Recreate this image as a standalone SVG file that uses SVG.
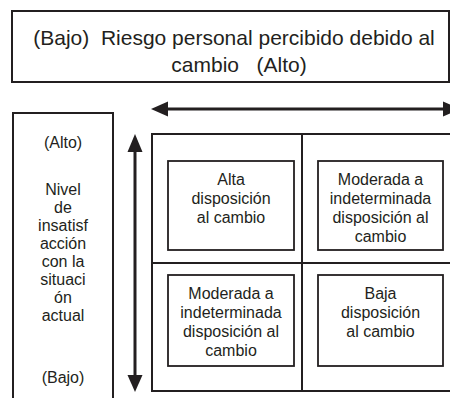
<svg xmlns="http://www.w3.org/2000/svg" width="450" height="398" viewBox="0 0 450 398">
<style>
.box{fill:#fff;stroke:#231f20;stroke-width:2}
.ibox{fill:#fff;stroke:#231f20;stroke-width:1.8}
.grid{fill:none;stroke:#231f20;stroke-width:2}
.t{font-family:"Liberation Sans",Arial,sans-serif;font-size:16px;fill:#231f20;text-anchor:middle}
.h{font-family:"Liberation Sans",Arial,sans-serif;font-size:21px;fill:#231f20;text-anchor:middle}
.ax{stroke:#231f20;stroke-width:3;fill:none}
.ah{fill:#231f20}
</style>
<rect width="450" height="398" fill="#fff"/>
<g id="header">
<rect class="box" x="12" y="11" width="437" height="71"/>
<text class="h" x="234" y="45" xml:space="preserve">(Bajo)  Riesgo personal percibido debido al</text>
<text class="h" x="239" y="72" xml:space="preserve">cambio   (Alto)</text>
</g>
<g id="side">
<rect class="box" x="13" y="113" width="100" height="300"/>
<text class="t" x="63" y="148">(Alto)</text>
<text class="t" x="63" y="195">Nivel</text>
<text class="t" x="63" y="213">de</text>
<text class="t" x="63" y="231">insatisf</text>
<text class="t" x="63" y="249">acción</text>
<text class="t" x="63" y="267">con la</text>
<text class="t" x="63" y="285">situaci</text>
<text class="t" x="63" y="303">ón</text>
<text class="t" x="63" y="321">actual</text>
<text class="t" x="63" y="383">(Bajo)</text>
</g>
<g id="grid">
<rect class="grid" x="152" y="134" width="310" height="257"/>
<line class="grid" x1="302" y1="134" x2="302" y2="391"/>
<line class="grid" x1="152" y1="263" x2="462" y2="263"/>
</g>
<g id="connectors">
<line class="ax" x1="166" y1="109" x2="446" y2="109"/>
<path class="ah" d="M151,109 L168,101.5 L168,116.5 Z"/>
<path class="ah" d="M460,109 L443,101.5 L443,116.5 Z"/>
<line class="ax" x1="135" y1="150" x2="135" y2="377"/>
<path class="ah" d="M135,134 L127.5,152 L142.5,152 Z"/>
<path class="ah" d="M135,392 L127.5,375 L142.5,375 Z"/>
</g>
<g id="q1">
<rect class="ibox" x="168" y="161" width="126" height="89"/>
<text class="t" x="231" y="185">Alta</text>
<text class="t" x="231" y="204">disposición</text>
<text class="t" x="231" y="223">al cambio</text>
</g>
<g id="q2">
<rect class="ibox" x="318" y="161" width="125" height="89"/>
<text class="t" x="380.5" y="185">Moderada a</text>
<text class="t" x="380.5" y="204">indeterminada</text>
<text class="t" x="380.5" y="223">disposición al</text>
<text class="t" x="380.5" y="242">cambio</text>
</g>
<g id="q3">
<rect class="ibox" x="168" y="275" width="126" height="91"/>
<text class="t" x="231" y="299">Moderada a</text>
<text class="t" x="231" y="318">indeterminada</text>
<text class="t" x="231" y="337">disposición al</text>
<text class="t" x="231" y="356">cambio</text>
</g>
<g id="q4">
<rect class="ibox" x="318" y="275" width="125" height="91"/>
<text class="t" x="380.5" y="299">Baja</text>
<text class="t" x="380.5" y="318">disposición</text>
<text class="t" x="380.5" y="337">al cambio</text>
</g>
</svg>
